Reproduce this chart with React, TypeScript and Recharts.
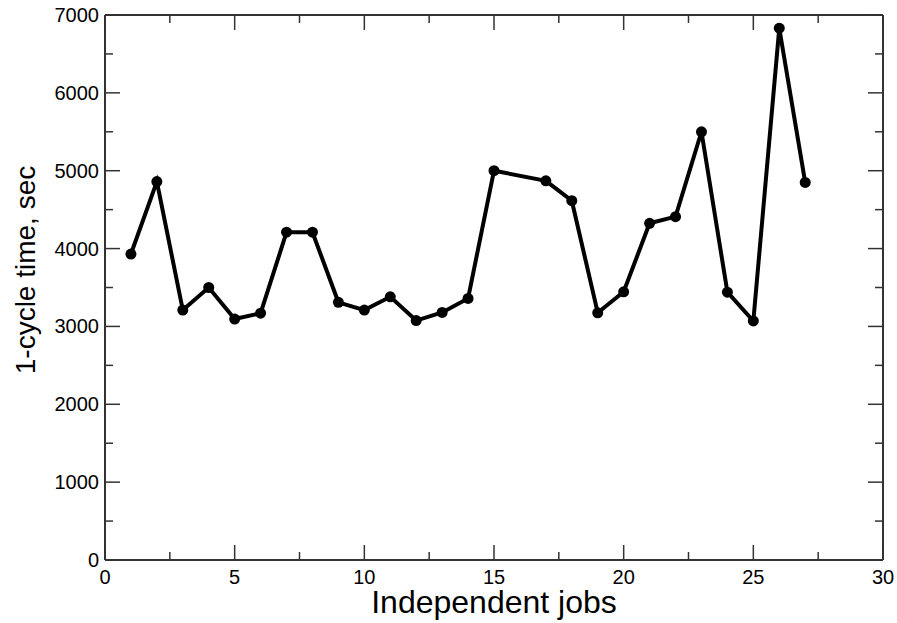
import { LineChart, Line, XAxis, YAxis } from 'recharts'

const jobs = [1, 2, 3, 4, 5, 6, 7, 8, 9, 10, 11, 12, 13, 14, 15, 17, 18, 19, 20, 21, 22, 23, 24, 25, 26, 27]
const cycleTimes = [
  3930, 4860, 3210, 3500, 3095, 3170, 4210, 4210, 3310, 3210, 3380, 3075, 3180,
  3360, 5000, 4870, 4615, 3175, 3445, 4325, 4410, 5500, 3440, 3070, 6830, 4850,
]
const xTicks = [0, 2.5, 5, 7.5, 10, 12.5, 15, 17.5, 20, 22.5, 25, 27.5, 30]
const yTicks = [0, 500, 1000, 1500, 2000, 2500, 3000, 3500, 4000, 4500, 5000, 5500, 6000, 6500, 7000]

const data = jobs.map((job, i) => ({ job, time: cycleTimes[i] }))

const FONT = '"Liberation Sans", Arial, Helvetica, sans-serif'
const AXIS = '#333'

function XTick({ x, y, payload, side }: any) {
  const major = payload.value % 5 === 0
  const len = major ? 15 : 8
  const dir = side === 'top' ? 1 : -1
  return (
    <g>
      <line x1={x} x2={x} y1={y} y2={y + dir * len} stroke={AXIS} strokeWidth={1.5} />
      {side === 'bottom' && major && (
        <text x={x} y={y + 24} textAnchor="middle" fontSize={20} fontFamily={FONT} fill="#000">
          {payload.value}
        </text>
      )}
    </g>
  )
}

function YTick({ x, y, payload, side }: any) {
  const major = payload.value % 1000 === 0
  const len = major ? 15 : 8
  const dir = side === 'right' ? -1 : 1
  return (
    <g>
      <line x1={x} x2={x + dir * len} y1={y} y2={y} stroke={AXIS} strokeWidth={1.5} />
      {side === 'left' && major && (
        <text x={x - 6} y={y + 7} textAnchor="end" fontSize={20} fontFamily={FONT} fill="#000">
          {payload.value}
        </text>
      )}
    </g>
  )
}

function XTitle({ viewBox }: any) {
  return (
    <text x={viewBox.x + viewBox.width / 2} y={viewBox.y + 53} textAnchor="middle"
      fontSize={32} fontFamily={FONT} fill="#000">
      Independent jobs
    </text>
  )
}

function YTitle({ viewBox }: any) {
  const cx = viewBox.x + 35
  const cy = viewBox.y + 255
  return (
    <text x={cx} y={cy} transform={`rotate(-90 ${cx} ${cy})`} textAnchor="middle"
      fontSize={28} fontFamily={FONT} fill="#000">
      1-cycle time, sec
    </text>
  )
}

export default function App() {
  return (
    <div style={{ position: 'absolute', left: 0, top: 0, background: '#fff' }}>
      <LineChart width={897} height={623} data={data} margin={{ top: 14, right: 13, left: 0, bottom: 0 }}>
        <XAxis
          xAxisId="bottom" dataKey="job" type="number" domain={[0, 30]} ticks={xTicks}
          interval={0} height={63} tickSize={0} tickMargin={0} tickLine={false}
          axisLine={{ stroke: AXIS, strokeWidth: 2 }} tick={<XTick side="bottom" />}
          label={<XTitle />} allowDataOverflow
        />
        <XAxis
          xAxisId="top" orientation="top" dataKey="job" type="number" domain={[0, 30]} ticks={xTicks}
          interval={0} height={1} tickSize={0} tickMargin={0} tickLine={false}
          axisLine={{ stroke: AXIS, strokeWidth: 2 }} tick={<XTick side="top" />} allowDataOverflow
        />
        <YAxis
          yAxisId="left" type="number" domain={[0, 7000]} ticks={yTicks} interval={0}
          width={105} tickSize={0} tickMargin={0} tickLine={false}
          axisLine={{ stroke: AXIS, strokeWidth: 2 }} tick={<YTick side="left" />}
          label={<YTitle />} allowDataOverflow
        />
        <YAxis
          yAxisId="right" orientation="right" type="number" domain={[0, 7000]} ticks={yTicks}
          interval={0} width={1} tickSize={0} tickMargin={0} tickLine={false}
          axisLine={{ stroke: AXIS, strokeWidth: 2 }} tick={<YTick side="right" />} allowDataOverflow
        />
        <Line
          xAxisId="top" yAxisId="right" type="linear" dataKey="time" stroke="none"
          dot={false} activeDot={false} isAnimationActive={false}
        />
        <Line
          xAxisId="bottom" yAxisId="left" type="linear" dataKey="time" stroke="#000"
          strokeWidth={4} dot={{ r: 5.5, fill: '#000', stroke: '#000', strokeWidth: 0 }}
          isAnimationActive={false}
        />
      </LineChart>
    </div>
  )
}
